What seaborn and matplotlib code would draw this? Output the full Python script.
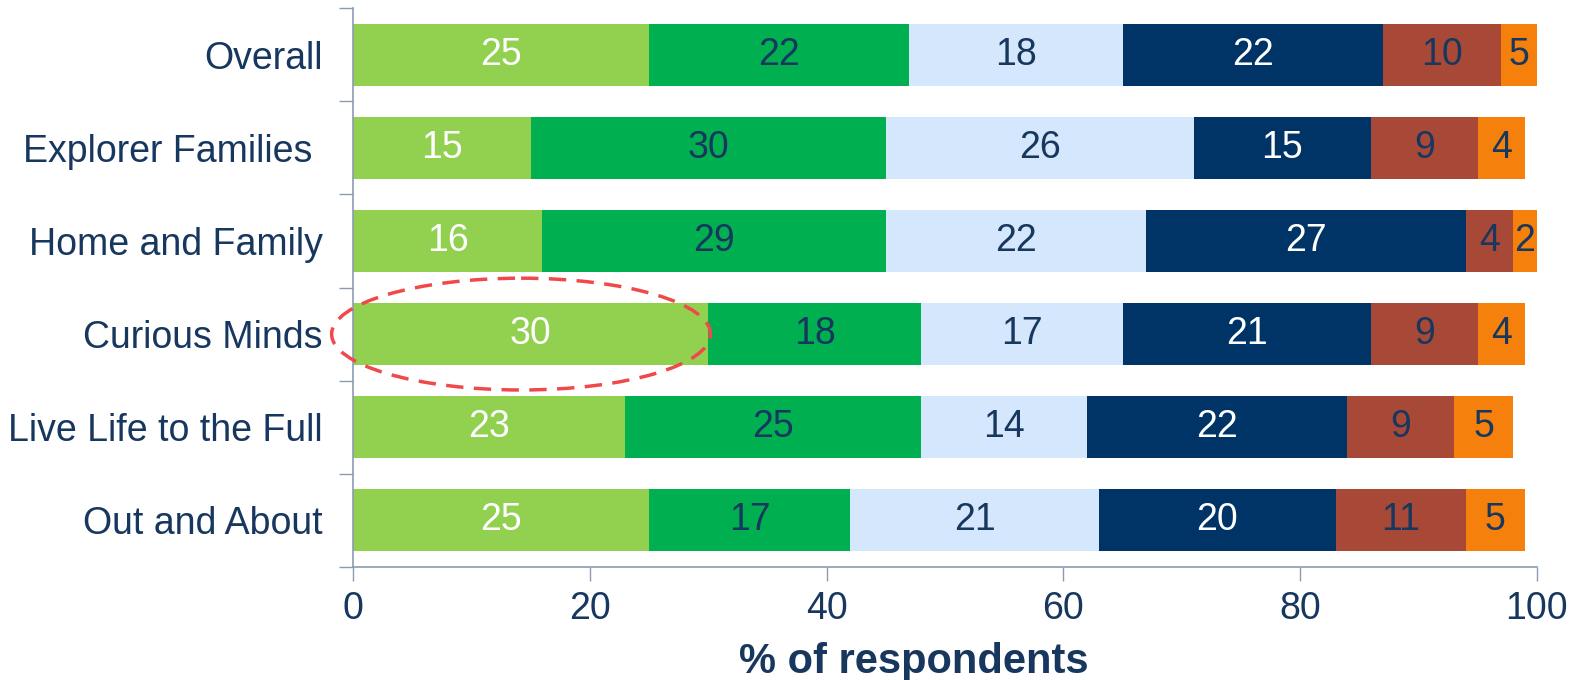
import numpy as np
import pandas as pd
import matplotlib
matplotlib.use("Agg")
import matplotlib.pyplot as plt
from matplotlib.patches import Ellipse
import seaborn as sns

# ── data ────────────────────────────────────────────────
segments = ["s1", "s2", "s3", "s4", "s5", "s6"]
groups = [
    "Overall",
    "Explorer Families ",
    "Home and Family",
    "Curious Minds",
    "Live Life to the Full",
    "Out and About",
]
s1 = [25, 15, 16, 30, 23, 25]
s2 = [22, 30, 29, 18, 25, 17]
s3 = [18, 26, 22, 17, 14, 21]
s4 = [22, 15, 27, 21, 22, 20]
s5 = [10, 9, 4, 9, 9, 11]
s6 = [5, 4, 2, 4, 5, 5]
x_ticks = [0, 20, 40, 60, 80, 100]
x_label = "% of respondents"
highlight_group = "Curious Minds"

# ── style ───────────────────────────────────────────────
sns.set_style("white")
plt.rcParams["font.family"] = ["Liberation Sans", "DejaVu Sans"]

NAVY = "#17375E"
AXIS = "#8C9BB3"
COLORS = ["#92D050", "#00B050", "#D5E7FC", "#003366", "#A84937", "#F5810C"]
TEXT_COLORS = ["white", NAVY, NAVY, "white", NAVY, NAVY]
FS = 27

df = pd.DataFrame({"group": groups, "s1": s1, "s2": s2, "s3": s3,
                   "s4": s4, "s5": s5, "s6": s6})
cum = df[segments].cumsum(axis=1)

fig = plt.figure(figsize=(15.75, 6.8), dpi=100)
ax = fig.add_axes([0.2241, 0.1662, 0.7517, 0.822])

# stacked bars: draw cumulative totals from the outermost segment inwards
for i in reversed(range(len(segments))):
    sns.barplot(x=cum[segments[i]], y=df["group"], color=COLORS[i],
                orient="h", width=0.665, saturation=1, linewidth=0, ax=ax)

# segment labels, centred on the visible part of each segment
for r in range(len(groups)):
    left = 0
    for i, seg in enumerate(segments):
        right = cum.loc[r, seg]
        mid = (left + min(right, 100)) / 2
        ax.text(mid, r, str(df.loc[r, seg]), ha="center", va="center",
                fontsize=FS, color=TEXT_COLORS[i])
        left = right

# highlight ellipse
hi = groups.index(highlight_group)
ax.add_patch(Ellipse((14.2, hi), 32.0, 1.2, fill=False, edgecolor="#F0494A",
                     linewidth=2.5, linestyle=(0, (5, 3)), clip_on=False, zorder=5))

ax.set_xlim(0, 100)
ax.set_ylim(len(groups) - 0.5, -0.5)
ax.set_xticks(x_ticks)
ax.set_xticklabels([str(t) for t in x_ticks])
ax.set_yticks(range(len(groups)))
ax.set_yticks(np.arange(-0.5, len(groups), 1.0), minor=True)

ax.tick_params(axis="x", bottom=True, direction="out", length=10, width=1,
               color=AXIS, labelsize=FS, labelcolor=NAVY, pad=7)
ax.tick_params(axis="y", which="major", left=True, length=0, labelsize=FS,
               labelcolor=NAVY, pad=22)
ax.tick_params(axis="y", which="minor", left=True, direction="out", length=10,
               width=1, color=AXIS)

ax.set_xlabel(x_label, fontsize=30, fontweight="bold", color=NAVY)
ax.xaxis.set_label_coords(0.474, -0.135)
ax.set_ylabel("")

sns.despine(ax=ax)
for side in ["left", "bottom"]:
    ax.spines[side].set_color(AXIS)
    ax.spines[side].set_linewidth(1.2)

fig.savefig("out.png", dpi=100)
